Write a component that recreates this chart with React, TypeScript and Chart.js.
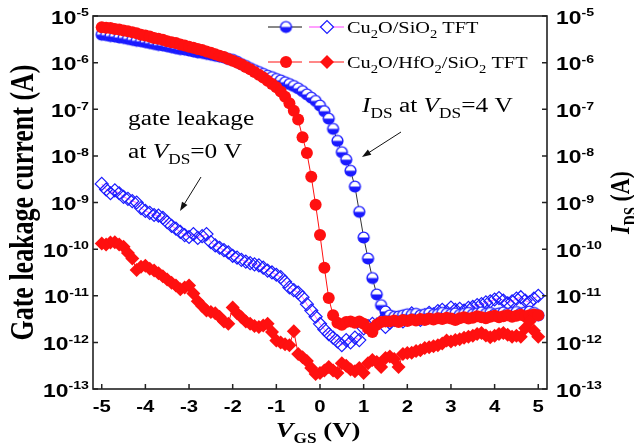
import { useEffect, useRef } from "react";
import { Chart, registerables } from "chart.js";
Chart.register(...registerables);

// ---------------- data ----------------
const voltages = [-5.0,-4.9,-4.8,-4.7,-4.6,-4.5,-4.4,-4.3,-4.2,-4.1,-4.0,-3.9,-3.8,-3.7,-3.6,-3.5,-3.4,-3.3,-3.2,-3.1,-3.0,-2.9,-2.8,-2.7,-2.6,-2.5,-2.4,-2.3,-2.2,-2.1,-2.0,-1.9,-1.8,-1.7,-1.6,-1.5,-1.4,-1.3,-1.2,-1.1,-1.0,-0.9,-0.8,-0.7,-0.6,-0.5,-0.4,-0.3,-0.2,-0.1,0.0,0.1,0.2,0.3,0.4,0.5,0.6,0.7,0.8,0.9,1.0,1.1,1.2,1.3,1.4,1.5,1.6,1.7,1.8,1.9,2.0,2.1,2.2,2.3,2.4,2.5,2.6,2.7,2.8,2.9,3.0,3.1,3.2,3.3,3.4,3.5,3.6,3.7,3.8,3.9,4.0,4.1,4.2,4.3,4.4,4.5,4.6,4.7,4.8,4.9,5.0];

// Cu2O/SiO2 TFT, I_DS at V_DS = 4 V (half-filled blue circles)
const sio2Ids = [
  3.98e-6, 3.89e-6, 3.72e-6, 3.63e-6, 3.47e-6, 3.39e-6, 3.24e-6, 3.09e-6, 2.95e-6, 2.88e-6,
  2.75e-6, 2.63e-6, 2.51e-6, 2.40e-6, 2.34e-6, 2.24e-6, 2.14e-6, 2.04e-6, 1.95e-6, 1.91e-6,
  1.82e-6, 1.74e-6, 1.66e-6, 1.62e-6, 1.55e-6, 1.48e-6, 1.41e-6, 1.35e-6, 1.29e-6, 1.20e-6,
  1.15e-6, 1.05e-6, 9.3e-7, 8.5e-7, 7.6e-7, 6.9e-7, 6.3e-7, 5.75e-7, 5.25e-7, 4.9e-7,
  4.47e-7, 4.17e-7, 3.8e-7, 3.47e-7, 3.16e-7, 2.82e-7, 2.45e-7, 2.09e-7, 1.78e-7, 1.51e-7,
  1.2e-7, 9.1e-8, 6.3e-8, 3.8e-8, 2.1e-8, 1.2e-8, 8.3e-9, 4.8e-9, 2.2e-9, 6.3e-10,
  1.78e-10, 6.3e-11, 2.4e-11, 1.07e-11, 6.3e-12, 4.6e-12, 3.8e-12, 3.55e-12, 3.6e-12, 3.8e-12,
  4.0e-12, 3.9e-12, 4.1e-12, 3.8e-12, 4.0e-12, 4.2e-12, 3.9e-12, 4.0e-12, 4.3e-12, 4.1e-12,
  4.0e-12, 4.2e-12, 3.9e-12, 4.1e-12, 4.3e-12, 4.0e-12, 4.2e-12, 4.4e-12, 4.1e-12, 4.3e-12,
  4.0e-12, 4.2e-12, 4.4e-12, 4.1e-12, 4.3e-12, 4.5e-12, 4.2e-12, 4.4e-12, 4.6e-12, 4.3e-12, 3.8e-12,
];

// Cu2O/SiO2 TFT, gate leakage at V_DS = 0 V (open blue diamonds)
const sio2Leak = [
  2.5e-9, 1.9e-9, 1.58e-9, 1.82e-9, 1.58e-9, 1.32e-9, 1.2e-9, 1.07e-9, 1.0e-9, 7.6e-10,
  6.6e-10, 6.0e-10, 5.4e-10, 5.25e-10, 4.7e-10, 3.8e-10, 3.16e-10, 2.75e-10, 2.34e-10, 2.0e-10,
  1.82e-10, 2.1e-10, 1.74e-10, 1.9e-10, 2.1e-10, 1.41e-10, 1.2e-10, 1.07e-10, 9.5e-11, 8.5e-11,
  7.2e-11, 6.6e-11, 5.9e-11, 5.4e-11, 5.0e-11, 4.7e-11, 4.5e-11, 4.0e-11, 3.47e-11, 3.16e-11,
  2.82e-11, 2.5e-11, 2.0e-11, 1.51e-11, 1.32e-11, 1.17e-11, 9.3e-12, 6.6e-12, 4.8e-12, 3.55e-12,
  2.5e-12, 1.9e-12, 1.51e-12, 1.26e-12, 1.05e-12, 8.7e-13, 1.12e-12, 1.0e-12, 1.26e-12, 1.12e-12,
  2.0e-12, 2.24e-12, 2.5e-12, 2.4e-12, 2.82e-12, 2.14e-12, 2.63e-12, 3.02e-12, 3.16e-12, 2.82e-12,
  3.47e-12, 4.2e-12, 3.55e-12, 3.02e-12, 3.8e-12, 4.3e-12, 4.0e-12, 4.7e-12, 5.0e-12, 4.5e-12,
  5.6e-12, 5.0e-12, 5.25e-12, 4.8e-12, 5.5e-12, 5.75e-12, 6.3e-12, 6.6e-12, 7.2e-12, 7.6e-12,
  8.3e-12, 8.9e-12, 7.9e-12, 6.9e-12, 7.6e-12, 8.7e-12, 9.3e-12, 7.9e-12, 7.2e-12, 8.7e-12, 1.0e-11,
];

// Cu2O/HfO2/SiO2 TFT, I_DS at V_DS = 4 V (filled red circles)
const hfo2Ids = [
  5.75e-6, 5.62e-6, 5.5e-6, 5.25e-6, 5.13e-6, 4.9e-6, 4.68e-6, 4.47e-6, 4.27e-6, 3.98e-6,
  3.8e-6, 3.63e-6, 3.39e-6, 3.24e-6, 3.09e-6, 2.88e-6, 2.75e-6, 2.63e-6, 2.45e-6, 2.34e-6,
  2.19e-6, 2.09e-6, 1.95e-6, 1.86e-6, 1.74e-6, 1.62e-6, 1.51e-6, 1.41e-6, 1.32e-6, 1.2e-6,
  1.1e-6, 1.0e-6, 9.1e-7, 8.1e-7, 7.2e-7, 6.3e-7, 5.5e-7, 4.8e-7, 4.1e-7, 3.47e-7,
  2.95e-7, 2.4e-7, 1.86e-7, 1.35e-7, 9.3e-8, 6.0e-8, 2.5e-8, 1.15e-8, 3.55e-9, 8.9e-10,
  2.0e-10, 4.0e-11, 8.9e-12, 3.8e-12, 2.63e-12, 2.4e-12, 2.75e-12, 2.82e-12, 2.63e-12, 2.82e-12,
  2.51e-12, 2.0e-12, 1.66e-12, 2.4e-12, 2.75e-12, 2.82e-12, 2.82e-12, 2.95e-12, 2.75e-12, 3.02e-12,
  2.88e-12, 3.09e-12, 2.95e-12, 3.16e-12, 3.02e-12, 3.24e-12, 3.09e-12, 3.31e-12, 3.16e-12, 3.39e-12,
  3.24e-12, 3.02e-12, 3.31e-12, 3.47e-12, 3.24e-12, 3.39e-12, 3.63e-12, 3.47e-12, 3.31e-12, 3.55e-12,
  3.72e-12, 3.47e-12, 3.63e-12, 3.8e-12, 3.55e-12, 3.72e-12, 3.89e-12, 3.63e-12, 3.8e-12, 3.98e-12, 3.8e-12,
];

// Cu2O/HfO2/SiO2 TFT, gate leakage at V_DS = 0 V (filled red diamonds)
const hfo2Leak = [
  1.32e-10, 1.26e-10, 1.38e-10, 1.41e-10, 1.26e-10, 1.12e-10, 8.3e-11, 6.3e-11, 3.55e-11, 4.2e-11,
  4.4e-11, 3.8e-11, 3.47e-11, 3.02e-11, 2.63e-11, 2.24e-11, 1.9e-11, 1.66e-11, 1.38e-11, 1.51e-11,
  1.66e-11, 1.12e-11, 7.6e-12, 6.0e-12, 4.8e-12, 4.5e-12, 4.2e-12, 3.55e-12, 2.82e-12, 2.5e-12,
  5.6e-12, 4.2e-12, 3.47e-12, 2.82e-12, 2.5e-12, 2.24e-12, 2.14e-12, 2.3e-12, 2.5e-12, 1.66e-12,
  1.1e-12, 1.0e-12, 9.1e-13, 8.7e-13, 1.74e-12, 5.6e-13, 4.8e-13, 4.0e-13, 2.82e-13, 2.1e-13,
  2.2e-13, 2.5e-13, 2.95e-13, 2.5e-13, 2.2e-13, 3.55e-13, 3.16e-13, 2.63e-13, 2.4e-13, 2.82e-13,
  2.2e-13, 3.55e-13, 4.2e-13, 3.8e-13, 2.95e-13, 4.6e-13, 5.0e-13, 4.4e-13, 2.95e-13, 5.6e-13,
  5.9e-13, 6.0e-13, 6.5e-13, 6.8e-13, 7.6e-13, 7.9e-13, 8.3e-13, 8.7e-13, 9.5e-13, 1.1e-12,
  1.05e-12, 1.12e-12, 1.17e-12, 1.26e-12, 1.32e-12, 1.38e-12, 1.51e-12, 1.58e-12, 1.41e-12, 1.29e-12,
  1.38e-12, 1.51e-12, 1.58e-12, 1.45e-12, 1.32e-12, 1.38e-12, 1.32e-12, 2.0e-12, 2.82e-12, 1.78e-12, 1.32e-12,
];

const xTickValues = [-5, -4, -3, -2, -1, 0, 1, 2, 3, 4, 5];
const yTickExponents = [-5, -6, -7, -8, -9, -10, -11, -12, -13];
const legendLabels = ["Cu2O/SiO2 TFT", "Cu2O/HfO2/SiO2 TFT"];
const leftTitle = "Gate leakage current (A)";

// ---------------- style ----------------
const BLUE = "#1a1aff";
const RED = "#ff1010";
const MAGENTA = "#ff40ff";
const AXIS = "#222";
const SERIF = '"Liberation Serif", "Times New Roman", serif';
const SANS = '"Liberation Sans", Arial, sans-serif';
const SX = 1.27; // horizontal stretch of the original figure

type Part = { t: string; sub?: boolean; sup?: boolean; it?: boolean };

function partFont(p: Part, size: number, bold: boolean, family: string, small: number) {
  const s = p.sub || p.sup ? size * small : size;
  return `${p.it ? "italic " : ""}${bold ? "bold " : ""}${s}px ${family}`;
}

function drawRich(
  ctx: CanvasRenderingContext2D,
  parts: Part[],
  x: number,
  y: number,
  size: number,
  bold: boolean,
  family: string,
  align: "left" | "center" | "right",
  rotated = false,
  small = 0.65,
  subDy = 0.3,
  supDy = 0.42
) {
  ctx.save();
  ctx.translate(x, y);
  ctx.scale(SX, 1);
  if (rotated) ctx.rotate(-Math.PI / 2);
  ctx.textBaseline = "alphabetic";
  ctx.textAlign = "left";
  ctx.fillStyle = "#000";
  let w = 0;
  for (const p of parts) {
    ctx.font = partFont(p, size, bold, family, small);
    w += ctx.measureText(p.t).width;
  }
  let cx = align === "left" ? 0 : align === "center" ? -w / 2 : -w;
  for (const p of parts) {
    ctx.font = partFont(p, size, bold, family, small);
    const dy = p.sub ? size * subDy : p.sup ? -size * supDy : 0;
    ctx.fillText(p.t, cx, dy);
    cx += ctx.measureText(p.t).width;
  }
  ctx.restore();
}

function chemParts(s: string): Part[] {
  const out: Part[] = [];
  let i = 0;
  while (i < s.length) {
    const ch = s[i];
    if (/[0-9]/.test(ch) && i > 0 && /[A-Za-z]/.test(s[i - 1])) {
      out.push({ t: ch, sub: true });
    } else {
      const last = out[out.length - 1];
      if (last && !last.sub) last.t += ch;
      else out.push({ t: ch });
    }
    i++;
  }
  return out;
}

function makeHalfCircle(r: number): HTMLCanvasElement {
  const s = Math.ceil(r * 2 + 3);
  const c = document.createElement("canvas");
  c.width = s;
  c.height = s;
  const g = c.getContext("2d")!;
  const cx = s / 2;
  const cy = s / 2;
  g.fillStyle = "#fff";
  g.beginPath();
  g.arc(cx, cy, r, 0, Math.PI * 2);
  g.fill();
  g.fillStyle = BLUE;
  g.beginPath();
  g.arc(cx, cy, r, 0, Math.PI);
  g.closePath();
  g.fill();
  g.strokeStyle = BLUE;
  g.lineWidth = 1.4;
  g.beginPath();
  g.arc(cx, cy, r - 0.3, 0, Math.PI * 2);
  g.stroke();
  return c;
}

function arrow(ctx: CanvasRenderingContext2D, x1: number, y1: number, x2: number, y2: number) {
  const a = Math.atan2(y2 - y1, x2 - x1);
  const L = 9;
  const W = 3.2;
  ctx.save();
  ctx.strokeStyle = "#111";
  ctx.fillStyle = "#111";
  ctx.lineWidth = 1;
  ctx.beginPath();
  ctx.moveTo(x1, y1);
  ctx.lineTo(x2 - Math.cos(a) * L * 0.8, y2 - Math.sin(a) * L * 0.8);
  ctx.stroke();
  ctx.beginPath();
  ctx.moveTo(x2, y2);
  ctx.lineTo(x2 - Math.cos(a) * L - Math.sin(a) * W, y2 - Math.sin(a) * L + Math.cos(a) * W);
  ctx.lineTo(x2 - Math.cos(a) * L + Math.sin(a) * W, y2 - Math.sin(a) * L - Math.cos(a) * W);
  ctx.closePath();
  ctx.fill();
  ctx.restore();
}

export default function App() {
  const ref = useRef<HTMLCanvasElement | null>(null);

  useEffect(() => {
    const canvas = ref.current;
    if (!canvas) return;
    const half = makeHalfCircle(5.7);
    const halfLegend = makeHalfCircle(5.7);

    const decor = {
      id: "decor",
      afterDraw(chart: any) {
        const ctx: CanvasRenderingContext2D = chart.ctx;
        const { left, right, top, bottom } = chart.chartArea;
        const xs = chart.scales.x;
        const ys = chart.scales.y;
        ctx.save();
        // frame
        ctx.strokeStyle = AXIS;
        ctx.lineWidth = 1.6;
        ctx.strokeRect(left, top, right - left, bottom - top);
        // x ticks (inward) and labels
        ctx.lineWidth = 1.5;
        for (const v of xTickValues) {
          const px = xs.getPixelForValue(v);
          ctx.beginPath();
          ctx.moveTo(px, bottom);
          ctx.lineTo(px, bottom - 5);
          ctx.stroke();
          drawRich(ctx, [{ t: String(v) }], px, bottom + 23, 16, true, SANS, "center");
        }
        // y ticks (left & right, inward) and labels
        for (const e of yTickExponents) {
          const py = ys.getPixelForValue(Math.pow(10, e));
          ctx.beginPath();
          ctx.moveTo(left, py);
          ctx.lineTo(left + 5, py);
          ctx.moveTo(right, py);
          ctx.lineTo(right - 5, py);
          ctx.stroke();
          const parts: Part[] = [{ t: "10" }, { t: String(e), sup: true }];
          drawRich(ctx, parts, left - 4, py + 7.5, 18, true, SANS, "right", false, 0.62, 0.3, 0.4);
          drawRich(ctx, parts, right + 9, py + 7.5, 18, true, SANS, "left", false, 0.62, 0.3, 0.4);
        }
        // axis titles
        drawRich(ctx, [{ t: leftTitle }], 33, (top + bottom) / 2, 26, true, SERIF, "center", true);
        drawRich(
          ctx,
          [{ t: "I", it: true }, { t: "DS", sub: true }, { t: " (A)" }],
          629,
          (top + bottom) / 2,
          22,
          true,
          SERIF,
          "center",
          true,
          0.65,
          0.28
        );
        drawRich(
          ctx,
          [{ t: "V", it: true }, { t: "GS", sub: true }, { t: " (V)" }],
          (left + right) / 2 - 2,
          437,
          21,
          true,
          SERIF,
          "center",
          false,
          0.65,
          0.28
        );

        // legend
        const rows = [
          { y: 27, l1: "#111", l2: MAGENTA, sym1: "half", sym2: "open" },
          { y: 62, l1: RED, l2: RED, sym1: "circle", sym2: "diamond" },
        ];
        rows.forEach((r, i) => {
          ctx.lineWidth = 1;
          ctx.strokeStyle = r.l1;
          ctx.beginPath();
          ctx.moveTo(268, r.y);
          ctx.lineTo(302, r.y);
          ctx.stroke();
          ctx.strokeStyle = r.l2;
          ctx.beginPath();
          ctx.moveTo(309, r.y);
          ctx.lineTo(344, r.y);
          ctx.stroke();
          if (r.sym1 === "half") {
            ctx.drawImage(halfLegend, 286 - halfLegend.width / 2, r.y - halfLegend.height / 2);
          } else {
            ctx.fillStyle = RED;
            ctx.beginPath();
            ctx.arc(286, r.y, 6, 0, Math.PI * 2);
            ctx.fill();
          }
          ctx.beginPath();
          const d = r.sym2 === "open" ? 6.5 : 7;
          ctx.moveTo(327 - d, r.y);
          ctx.lineTo(327, r.y - d);
          ctx.lineTo(327 + d, r.y);
          ctx.lineTo(327, r.y + d);
          ctx.closePath();
          if (r.sym2 === "open") {
            ctx.fillStyle = "#fff";
            ctx.fill();
            ctx.strokeStyle = BLUE;
            ctx.lineWidth = 1.2;
            ctx.stroke();
          } else {
            ctx.fillStyle = RED;
            ctx.fill();
          }
          drawRich(ctx, chemParts(legendLabels[i]), 347, r.y + 6, 16, false, SERIF, "left", false, 0.72, 0.32);
        });

        // annotations
        drawRich(ctx, [{ t: "gate leakage" }], 128, 125, 20, false, SERIF, "left");
        drawRich(
          ctx,
          [{ t: "at " }, { t: "V", it: true }, { t: "DS", sub: true }, { t: "=0 V" }],
          128,
          158,
          20,
          false,
          SERIF,
          "left",
          false,
          0.68,
          0.3
        );
        drawRich(
          ctx,
          [{ t: "I", it: true }, { t: "DS", sub: true }, { t: " at " }, { t: "V", it: true }, { t: "DS", sub: true }, { t: "=4 V" }],
          362,
          112,
          20,
          false,
          SERIF,
          "left",
          false,
          0.68,
          0.3
        );
        arrow(ctx, 201, 177, 180, 211);
        arrow(ctx, 401, 132, 362, 157);
        ctx.restore();
      },
    };

    const pts = (arr: number[]) => voltages.map((v, i) => ({ x: v, y: arr[i] }));

    const chart = new Chart(canvas, {
      type: "line",
      data: {
        datasets: [
          {
            label: "Cu2O/HfO2/SiO2 TFT gate leakage",
            data: pts(hfo2Leak),
            borderColor: RED,
            borderWidth: 1,
            backgroundColor: RED,
            pointStyle: "rectRot",
            pointRadius: 7,
            pointBorderWidth: 0,
            pointBackgroundColor: RED,
          },
          {
            label: "Cu2O/HfO2/SiO2 TFT I_DS",
            data: pts(hfo2Ids),
            borderColor: RED,
            borderWidth: 1,
            backgroundColor: RED,
            pointStyle: "circle",
            pointRadius: 6,
            pointBorderWidth: 0,
            pointBackgroundColor: RED,
          },
          {
            label: "Cu2O/SiO2 TFT I_DS",
            data: pts(sio2Ids),
            borderColor: "#333",
            borderWidth: 1,
            pointStyle: half as any,
            pointRadius: 5.7,
          },
          {
            label: "Cu2O/SiO2 TFT gate leakage",
            data: pts(sio2Leak),
            borderColor: MAGENTA,
            borderWidth: 0.8,
            pointStyle: "rectRot",
            pointRadius: 6.5,
            pointBorderWidth: 1.2,
            pointBorderColor: BLUE,
            pointBackgroundColor: "rgba(0,0,0,0)",
          },
        ],
      },
      options: {
        animation: false,
        responsive: false,
        devicePixelRatio: 1,
        layout: { padding: { left: 93, right: 87, top: 16, bottom: 59 } },
        plugins: { legend: { display: false }, tooltip: { enabled: false } },
        elements: { line: { tension: 0 } },
        scales: {
          x: { type: "linear", min: -5.2, max: 5.2, display: false },
          y: { type: "logarithmic", min: 1e-13, max: 1e-5, display: false },
        },
      },
      plugins: [decor],
    } as any);

    return () => chart.destroy();
  }, []);

  return (
    <div style={{ position: "absolute", left: 0, top: 0, width: 634, height: 448, background: "#fff" }}>
      <canvas ref={ref} width={634} height={448} style={{ width: 634, height: 448, display: "block" }} />
    </div>
  );
}
